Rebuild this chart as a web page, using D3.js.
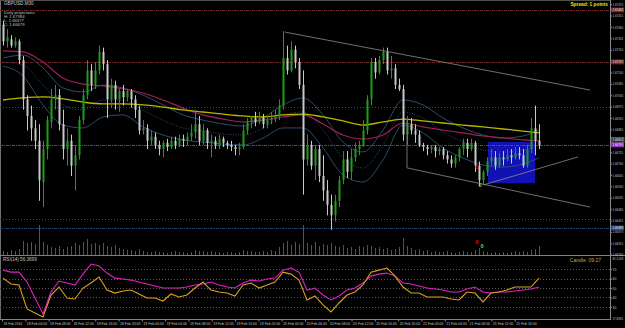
<!DOCTYPE html>
<html>
<head>
<meta charset="utf-8">
<script src="https://cdn.jsdelivr.net/npm/d3@7"></script>
<style>
body { margin: 0; background: #000; }
svg { display: block; }
text { font-family: "Liberation Sans", Arial, sans-serif; }
</style>
</head>
<body>
<svg id="chart" width="625" height="328"></svg>
<script>
// ---- GBPUSD M30 candles (prices) ----
const opens = [1.6737,1.6729,1.6730,1.6727,1.6729, 1.6720,1.6701,1.6693,1.6687,1.6681, 1.6661,1.6677,1.6690,1.6701,1.6703,
  1.6689,1.6677,1.6681,1.6669,1.6674, 1.6691,1.6703,1.6715,1.6708,1.6715, 1.6724,1.6718,1.6701,1.6708,1.6701,
  1.6705,1.6702,1.6705,1.6701,1.6696, 1.6686,1.6687,1.6681,1.6683,1.6679, 1.6677,1.6680,1.6678,1.6681,1.6679,
  1.6682,1.6681,1.6683,1.6685,1.6689, 1.6681,1.6686,1.6680,1.6681,1.6679, 1.6682,1.6680,1.6679,1.6678,1.6677,
  1.6678,1.6686,1.6690,1.6692,1.6690, 1.6692,1.6689,1.6691,1.6692,1.6693, 1.6698,1.6721,1.6715,1.6725,1.6719,
  1.6708,1.6672,1.6679,1.6669,1.6677, 1.6664,1.6657,1.6650,1.6645,1.6652, 1.6662,1.6672,1.6666,1.6673,1.6677,
  1.6679,1.6686,1.6701,1.6719,1.6714, 1.6720,1.6724,1.6715,1.6716,1.6708, 1.6706,1.6684,1.6689,1.6686,1.6684,
  1.6679,1.6678,1.6677,1.6678,1.6676, 1.6677,1.6674,1.6672,1.6670,1.6673, 1.6677,1.6680,1.6677,1.6680,1.6669,
  1.6662,1.6666,1.6671,1.6673,1.6669, 1.6673,1.6672,1.6674,1.6673,1.6675, 1.6674,1.6669,1.6677,1.6687,1.6681];
const highs = [1.6739,1.6735,1.6732,1.6731,1.6730, 1.6722,1.6703,1.6698,1.6691,1.6689, 1.6681,1.6693,1.6706,1.6708,1.6706,
  1.6696,1.6687,1.6684,1.6679,1.6693, 1.6706,1.6720,1.6718,1.6719,1.6727, 1.6726,1.6720,1.6711,1.6710,1.6706,
  1.6708,1.6706,1.6706,1.6703,1.6698, 1.6691,1.6689,1.6686,1.6685,1.6681, 1.6681,1.6682,1.6683,1.6683,1.6684,
  1.6684,1.6685,1.6689,1.6695,1.6693, 1.6689,1.6687,1.6684,1.6683,1.6684, 1.6683,1.6681,1.6681,1.6679,1.6680,
  1.6689,1.6692,1.6693,1.6695,1.6695, 1.6694,1.6693,1.6695,1.6696,1.6701, 1.6734,1.6727,1.6729,1.6727,1.6721,
  1.6715,1.6684,1.6681,1.6679,1.6679, 1.6674,1.6662,1.6655,1.6655,1.6664, 1.6676,1.6676,1.6677,1.6680,1.6681,
  1.6691,1.6703,1.6721,1.6721,1.6722, 1.6726,1.6726,1.6722,1.6718,1.6711, 1.6708,1.6693,1.6692,1.6689,1.6686,
  1.6680,1.6679,1.6679,1.6679,1.6678, 1.6678,1.6676,1.6674,1.6674,1.6678, 1.6682,1.6682,1.6682,1.6681,1.6671,
  1.6667,1.6673,1.6677,1.6676,1.6675, 1.6676,1.6677,1.6677,1.6678,1.6678, 1.6677,1.6679,1.6692,1.6698,1.6689];
const lows = [1.6727,1.6726,1.6726,1.6726,1.6718, 1.6696,1.6686,1.6681,1.6677,1.6652, 1.6649,1.6672,1.6687,1.6696,1.6686,
  1.6672,1.6669,1.6664,1.6657,1.6672, 1.6689,1.6701,1.6705,1.6706,1.6713, 1.6715,1.6692,1.6697,1.6696,1.6695,
  1.6698,1.6700,1.6697,1.6692,1.6684, 1.6684,1.6677,1.6679,1.6677,1.6674, 1.6673,1.6676,1.6677,1.6677,1.6678,
  1.6678,1.6679,1.6681,1.6682,1.6679, 1.6679,1.6677,1.6673,1.6677,1.6677, 1.6678,1.6677,1.6676,1.6674,1.6674,
  1.6677,1.6684,1.6687,1.6688,1.6689, 1.6687,1.6687,1.6689,1.6690,1.6691, 1.6696,1.6713,1.6714,1.6716,1.6706,
  1.6655,1.6669,1.6667,1.6662,1.6661, 1.6652,1.6645,1.6638,1.6642,1.6649, 1.6660,1.6663,1.6662,1.6671,1.6674,
  1.6678,1.6684,1.6698,1.6711,1.6713, 1.6718,1.6713,1.6711,1.6706,1.6705, 1.6681,1.6679,1.6684,1.6680,1.6678,
  1.6676,1.6674,1.6675,1.6673,1.6674, 1.6672,1.6670,1.6668,1.6668,1.6671, 1.6674,1.6673,1.6676,1.6666,1.6659,
  1.6660,1.6664,1.6669,1.6667,1.6668, 1.6669,1.6671,1.6670,1.6672,1.6672, 1.6668,1.6668,1.6675,1.6674,1.6677];
const closes = [1.6729,1.6731,1.6727,1.6729,1.6720, 1.6701,1.6693,1.6687,1.6681,1.6662, 1.6677,1.6691,1.6701,1.6703,1.6689,
  1.6677,1.6681,1.6669,1.6674,1.6691, 1.6703,1.6715,1.6708,1.6715,1.6724, 1.6718,1.6701,1.6708,1.6701,1.6705,
  1.6702,1.6705,1.6701,1.6696,1.6686, 1.6687,1.6681,1.6683,1.6679,1.6677, 1.6680,1.6678,1.6681,1.6679,1.6682,
  1.6681,1.6683,1.6685,1.6689,1.6681, 1.6686,1.6680,1.6681,1.6679,1.6682, 1.6680,1.6679,1.6678,1.6677,1.6678,
  1.6686,1.6690,1.6692,1.6690,1.6692, 1.6689,1.6691,1.6692,1.6693,1.6698, 1.6721,1.6715,1.6725,1.6719,1.6708,
  1.6672,1.6679,1.6669,1.6677,1.6664, 1.6657,1.6650,1.6645,1.6652,1.6662, 1.6672,1.6666,1.6673,1.6677,1.6679,
  1.6686,1.6701,1.6719,1.6714,1.6720, 1.6724,1.6715,1.6716,1.6708,1.6706, 1.6684,1.6689,1.6686,1.6684,1.6679,
  1.6678,1.6677,1.6678,1.6676,1.6677, 1.6674,1.6672,1.6670,1.6673,1.6677, 1.6680,1.6677,1.6680,1.6669,1.6662,
  1.6666,1.6671,1.6673,1.6669,1.6673, 1.6672,1.6674,1.6673,1.6675,1.6674, 1.6669,1.6677,1.6687,1.6681,1.6679];
const volumes = [480,360,600,480,720, 1680,1440,1560,1320,3600, 1560,1200,960,840,1080, 720,960,1080,1440,1200,
  1560,1920,1320,1440,1200, 1440,1080,960,1200,840, 720,600,600,480,720, 480,360,360,480,360,
  360,240,360,480,360, 360,240,360,600,480, 480,360,480,360,360, 240,360,360,240,360,
  600,480,480,360,360, 480,360,600,480,960, 1440,1680,1200,1560,1320, 3600,1440,1200,1560,1080,
  1320,1200,1440,1080,960, 1200,840,960,720,1080, 960,1200,1080,840,960, 720,840,600,720,960,
  2040,1080,840,600,720, 480,600,360,480,360, 360,480,360,240,360, 480,360,360,600,840,
  480,360,240,360,240, 360,240,360,480,360, 480,360,600,720,1080];

// ---- moving averages / envelope, sampled every 5 bars ----
const maIdx = [0,5,10,15,20,25,30,35,40,45,50,55,60,65,70,75,80,85,90,95,100,105,110,115,120,125,130,134];
const maSlow = [1.67007,1.67017,1.67022,1.67012,1.66997,1.66988,1.66988,1.66983,1.66973,1.66959,1.66949,1.66939,1.66930,1.66925,
  1.66935,1.66939,1.66925,1.66906,1.66886,1.66901,1.66915,1.66906,1.66896,1.66886,1.66877,1.66867,1.66857,1.66848];
const maMid = [1.67244,1.67239,1.67191,1.67113,1.67084,1.67075,1.67060,1.67041,1.67007,1.66968,1.66935,1.66915,1.66901,1.66910,
  1.66925,1.66935,1.66891,1.66838,1.66819,1.66838,1.66896,1.66877,1.66862,1.66848,1.66833,1.66824,1.66814,1.66809];
const envUpper = [1.67210,1.67224,1.67162,1.67065,1.67046,1.67079,1.67065,1.67031,1.66983,1.66935,1.66910,1.66891,1.66881,1.66920,
  1.66983,1.67017,1.66935,1.66804,1.66756,1.66862,1.67007,1.66983,1.66920,1.66872,1.66838,1.66823,1.66833,1.66862];
const envMiddle = [1.67191,1.67176,1.67079,1.66983,1.66959,1.67007,1.67007,1.66959,1.66910,1.66872,1.66857,1.66843,1.66838,1.66872,
  1.66935,1.66949,1.66862,1.66727,1.66679,1.66790,1.66949,1.66920,1.66852,1.66804,1.66765,1.66756,1.66765,1.66790];
const envLower = [1.67171,1.67123,1.66983,1.66886,1.66872,1.66925,1.66935,1.66877,1.66838,1.66814,1.66804,1.66794,1.66790,1.66823,
  1.66872,1.66872,1.66775,1.66645,1.66611,1.66717,1.66886,1.66848,1.66775,1.66727,1.66693,1.66683,1.66698,1.66727];

// ---- RSI pane, sampled every 2 bars ----
const rsiIdx = d3.range(0, 135, 2);
const rsiSlow = [68.9,66.8,66.8,56.3,39.5,22.6,45.8,57.4,55.3,53.2,64.7,75.3,73.2,65.8,60.5,59.5,58.4,56.3,54.2,52.1,
  50.0,50.0,50.0,51.1,53.2,54.2,56.3,53.2,51.1,50.0,55.3,58.4,57.4,59.5,60.5,68.9,71.1,66.8,47.9,50.0,
  42.6,37.4,41.6,47.9,50.0,55.3,62.6,64.7,65.8,62.6,55.3,54.2,52.1,50.0,48.9,47.9,45.8,45.8,48.9,51.1,
  45.8,44.7,45.8,45.8,46.8,47.9,48.9,51.1];
const rsiFast = [60.5,54.2,53.2,27.9,23.7,19.5,42.6,51.1,39.5,38.4,50.0,55.3,61.6,47.9,44.7,46.8,47.9,43.7,39.5,39.5,
  36.3,43.7,40.5,42.6,50.0,56.3,47.9,45.8,44.7,41.6,53.2,55.3,50.0,53.2,56.3,66.8,64.7,58.4,37.4,41.6,
  32.1,24.7,34.2,42.6,45.8,53.2,66.8,68.9,71.1,62.6,51.1,44.7,44.7,40.5,40.5,40.5,38.4,37.4,45.8,44.7,
  35.3,44.7,45.8,47.9,51.1,51.1,51.1,60.5];
const rsiLevels = [70, 60, 50, 40, 30];
const rsiRange = [17.8085, 81.5248];

// ---- axes ----
const priceTicks = [1.67470,1.67415,1.67360,1.67305,1.67250,1.67195,1.67140,1.67085,1.67030,1.66975,1.66920,1.66865,
  1.66810,1.66755,1.66700,1.66645,1.66590,1.66535,1.66480,1.66425,1.66370,1.66315,1.66260];
const timeHours = [0,4,8,12,16,20,24,28,32,36,40,44,48,52,56,60,64,68,72,76,80,84,88];
const timeLabels = ["18 Feb 2014","18 Feb 04:00","18 Feb 08:00","18 Feb 12:00","18 Feb 16:00","18 Feb 20:00",
  "19 Feb 00:00","19 Feb 04:00","19 Feb 08:00","19 Feb 12:00","19 Feb 16:00","19 Feb 20:00",
  "20 Feb 00:00","20 Feb 04:00","20 Feb 08:00","20 Feb 12:00","20 Feb 16:00","20 Feb 20:00",
  "21 Feb 00:00","21 Feb 04:00","21 Feb 08:00","21 Feb 12:00","21 Feb 16:00"];

// ---- chart objects ----
const hLevels = [
  {p: 1.67442, c: "#6e2a2a", dash: "3,1,1,1", tag: "#7a2626"},
  {p: 1.67191, c: "#6e2a2a", dash: "3,1,1,1", tag: "#7a2626"},
  {p: 1.66973, c: "#4a4a4a", dash: "1,2", tag: null},
  {p: 1.66814, c: null, dash: null, tag: "#303030"},
  {p: 1.66790, c: "#7a2fa5", dash: "3,1,1,1", tag: "#8a2fc0"},
  {p: 1.66432, c: "#4a4a4a", dash: "1,2", tag: null},
  {p: 1.66389, c: "#23406a", dash: "3,1,1,1", tag: "#2a4a7a"}
];
const channelLines = [
  {i1: 70.5, p1: 1.67335, i2: 146.75, p2: 1.67055},
  {i1: 101, p1: 1.66679, i2: 146.75, p2: 1.66490},
  {i1: 101, p1: 1.66910, i2: 101, p2: 1.66679},
  {i1: 120, p1: 1.66596, i2: 143.75, p2: 1.66732}
];
const boxRect = {i1: 121.25, i2: 133, pTop: 1.66804, pBot: 1.66606};
const marks = [
  {i: 118.5, p: 1.66683, t: "0", c: "#e01010"},
  {i: 119.25, p: 1.66596, t: "0", c: "#8ccc44"},
  {i: 118.5, p: 1.66321, t: "0", c: "#e01010"},
  {i: 119.75, p: 1.66302, t: "0", c: "#8ccc44"}
];
const infoLines = ["Daily projections", "H: 1.67394", "L: 1.66377", "C: 1.66679"];

const svg = d3.select("#chart");
const plotRight = 610;
const axisFont = 3.4;

svg.append("rect").attr("width", 625).attr("height", 328).attr("fill", "#000");

const x = d3.scaleLinear().domain([0, 134]).range([3, 539]);
const y = d3.scaleLinear().domain([1.6749, 1.662825]).range([0, 250]);
const yVol = d3.scaleLinear().domain([0, 3600]).range([255, 225]);
const yRsi = d3.scaleLinear().domain(rsiRange).range([318.5, 258.2]);
const xTime = d3.scaleLinear().domain([0, 92]).range([2, 538]);

// squeeze the tiny axis labels like the terminal does
function squeeze(sel, perChar) {
  sel.each(function () {
    const n = this.textContent.length;
    d3.select(this).attr("textLength", n * perChar).attr("lengthAdjust", "spacingAndGlyphs");
  });
}

// frame
svg.append("line").attr("x1", 0.5).attr("x2", 0.5).attr("y1", 0).attr("y2", 320).attr("stroke", "#707070");
svg.append("line").attr("x1", 0).attr("x2", plotRight).attr("y1", 0.5).attr("y2", 0.5).attr("stroke", "#505050");
svg.append("line").attr("x1", 0).attr("x2", 625).attr("y1", 255.5).attr("y2", 255.5).attr("stroke", "#808080");

// background rectangle object
svg.append("rect")
  .attr("x", x(boxRect.i1)).attr("y", y(boxRect.pTop))
  .attr("width", x(boxRect.i2) - x(boxRect.i1))
  .attr("height", y(boxRect.pBot) - y(boxRect.pTop))
  .attr("fill", "#1212b4");

// horizontal levels
hLevels.filter(d => d.c).forEach(d => {
  svg.append("line")
    .attr("x1", 0).attr("x2", plotRight)
    .attr("y1", Math.round(y(d.p)) + 0.5).attr("y2", Math.round(y(d.p)) + 0.5)
    .attr("stroke", d.c).attr("stroke-dasharray", d.dash);
});

// volumes
svg.append("g").selectAll("line").data(volumes).join("line")
  .attr("x1", (d, i) => Math.round(x(i)) + 0.5).attr("x2", (d, i) => Math.round(x(i)) + 0.5)
  .attr("y1", yVol(0)).attr("y2", d => yVol(d))
  .attr("stroke", "#8a4415");

// MAs and envelope
function maLine(vals, color, width, dash) {
  const line = d3.line().x((d, k) => x(maIdx[k])).y(d => y(d)).curve(d3.curveMonotoneX);
  svg.append("path").datum(vals).attr("d", line)
    .attr("fill", "none").attr("stroke", color).attr("stroke-width", width)
    .attr("stroke-dasharray", dash || null);
}
maLine(envUpper, "#2c4c6c", 1);
maLine(envMiddle, "#2c4c6c", 1, "1,1.5");
maLine(envLower, "#2c4c6c", 1);
maLine(maMid, "#a01e5a", 1.2);
maLine(maSlow, "#b8b800", 1.3);

// candles
const candles = svg.append("g");
opens.forEach((o, i) => {
  const c = closes[i];
  const col = c >= o ? "#18a018" : "#c8c8c8";
  const cx = Math.round(x(i));
  candles.append("line")
    .attr("x1", cx + 0.5).attr("x2", cx + 0.5)
    .attr("y1", y(highs[i])).attr("y2", y(lows[i]))
    .attr("stroke", col);
  const top = y(Math.max(o, c)), bot = y(Math.min(o, c));
  candles.append("rect")
    .attr("x", cx - 0.5).attr("width", 2)
    .attr("y", top).attr("height", Math.max(1, bot - top))
    .attr("fill", col);
});

// trend channel lines
channelLines.forEach(d => {
  svg.append("line")
    .attr("x1", x(d.i1)).attr("y1", y(d.p1)).attr("x2", x(d.i2)).attr("y2", y(d.p2))
    .attr("stroke", "#8c8c8c").attr("stroke-width", 0.8);
});

marks.forEach(d => {
  svg.append("text").attr("x", x(d.i)).attr("y", y(d.p) + 2).attr("text-anchor", "middle")
    .attr("font-size", 5.5).attr("font-weight", "bold").attr("fill", d.c).text(d.t);
});

// price axis
const pAxis = svg.append("g").attr("transform", `translate(${plotRight},0)`)
  .call(d3.axisRight(y).tickValues(priceTicks).tickFormat(d3.format(".5f")).tickSize(2).tickPadding(0.5));
pAxis.select(".domain").attr("stroke", "#8c8c8c").attr("d", "M0.5,0V320");
pAxis.selectAll(".tick line").attr("stroke", "#8c8c8c");
pAxis.selectAll("text").attr("fill", "#c0c0c0").attr("font-size", axisFont).call(squeeze, 1.5);

// highlighted price tags
hLevels.filter(d => d.tag).forEach(d => {
  const g = svg.append("g").attr("transform", `translate(${plotRight + 1},${y(d.p)})`);
  g.append("rect").attr("x", 0).attr("y", -2.4).attr("width", 13).attr("height", 4.8)
    .attr("fill", d.tag).attr("stroke", d.tag === "#303030" ? "#a0a0a0" : "none").attr("stroke-width", 0.5);
  g.append("text").attr("x", 1.5).attr("y", 1.3).attr("font-size", axisFont).attr("fill", "#f0f0f0")
    .text(d3.format(".5f")(d.p)).call(squeeze, 1.5);
});

// RSI pane
rsiLevels.forEach(v => {
  svg.append("line").attr("x1", 0).attr("x2", plotRight)
    .attr("y1", Math.round(yRsi(v)) + 0.5).attr("y2", Math.round(yRsi(v)) + 0.5)
    .attr("stroke", "#5a5a5a").attr("stroke-dasharray", "1,2");
});
const rLine = d3.line().x((d, k) => x(rsiIdx[k])).y(d => yRsi(d));
svg.append("path").datum(rsiSlow).attr("d", rLine).attr("fill", "none").attr("stroke", "#e020c0").attr("stroke-width", 1.1);
svg.append("path").datum(rsiFast).attr("d", rLine).attr("fill", "none").attr("stroke", "#d8a020").attr("stroke-width", 1.1);

const rAxis = svg.append("g").attr("transform", `translate(${plotRight},0)`)
  .call(d3.axisRight(yRsi).tickValues(rsiLevels).tickSize(2).tickPadding(0.5));
rAxis.select(".domain").remove();
rAxis.selectAll(".tick line").attr("stroke", "#8c8c8c");
rAxis.selectAll("text").attr("fill", "#c0c0c0").attr("font-size", axisFont);
rsiRange.forEach(v => {
  svg.append("text").attr("x", plotRight + 2.5).attr("y", yRsi(v) + 1.3)
    .attr("font-size", axisFont).attr("fill", "#c0c0c0").text(v.toFixed(4)).call(squeeze, 1.5);
});

// time axis
svg.append("line").attr("x1", 0).attr("x2", plotRight).attr("y1", 319.5).attr("y2", 319.5).attr("stroke", "#808080");
const tAxis = svg.append("g").attr("transform", "translate(0,319.5)")
  .call(d3.axisBottom(xTime).tickValues(timeHours).tickFormat((d, k) => timeLabels[k]).tickSize(2).tickPadding(1));
tAxis.select(".domain").remove();
tAxis.selectAll(".tick line").attr("stroke", "#8c8c8c");
tAxis.selectAll("text").attr("fill", "#c0c0c0").attr("font-size", 4.2)
  .attr("text-anchor", "start").attr("dx", 1).call(squeeze, 1.7);

// texts
svg.append("text").attr("x", 4).attr("y", 5).attr("font-size", 4.6).attr("fill", "#c8c8c8").text("GBPUSD,M30");
infoLines.forEach((t, k) => {
  svg.append("text").attr("x", 4).attr("y", 14 + k * 3.9).attr("font-size", 4.2).attr("fill", "#c0c0c0").text(t);
});
svg.append("text").attr("x", 608).attr("y", 6).attr("text-anchor", "end").attr("font-size", 4.8)
  .attr("font-weight", "bold").attr("fill", "#e8e800").text("Spread: 1 points");
svg.append("text").attr("x", 3).attr("y", 261).attr("font-size", 4.6).attr("fill", "#c0c0c0").text("RSI(14) 56.3699");
svg.append("text").attr("x", 601).attr("y", 262).attr("text-anchor", "end").attr("font-size", 5)
  .attr("fill", "#d8a020").text("Candle: 09:27");
</script>
</body>
</html>
